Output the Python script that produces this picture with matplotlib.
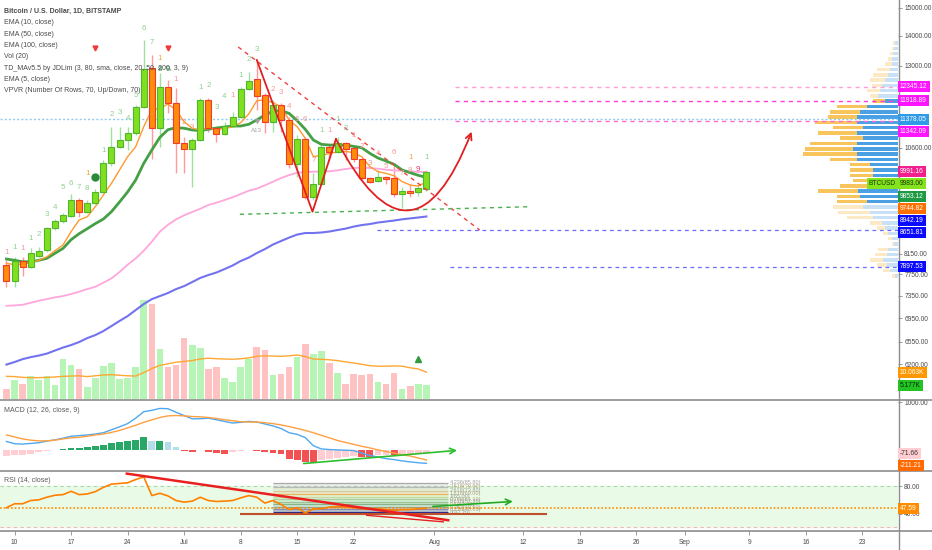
import numpy as np
import matplotlib
matplotlib.use("Agg")
import matplotlib.pyplot as plt
from matplotlib.lines import Line2D
from matplotlib.patches import FancyArrowPatch
from matplotlib.ticker import FixedLocator, NullLocator, FuncFormatter

plt.rcParams['font.family'] = ['Liberation Sans Narrow', 'Liberation Sans', 'DejaVu Sans']

W, H = 932, 550

# daily BTCUSD candles, Jun 9 .. Jul 31 2019 (index 0 = Jun 9)
opens = [7929, 7613, 8001, 7894, 8105, 8228, 8682, 8836, 8952, 9315, 9049, 9253, 9509, 10203,
         10632, 10811, 11009, 11732, 12924, 11136, 12328, 11850, 10731, 10570, 10811, 11939,
         11136, 10973, 11192, 11443, 12266, 12577, 12087, 11305, 11791, 11361, 10185, 10838,
         9383, 9692, 10623, 10493, 10731, 10597, 10313, 9836, 9765, 9860, 9836, 9454, 9525,
         9501, 9573]
highs = [8027, 8091, 8091, 8261, 8295, 8717, 8877, 9026, 9454, 9352, 9315, 9563, 10287, 11172,
         11172, 11172, 11791, 13856, 13349, 12766, 12546, 12300, 10890, 10865, 11999, 11999,
         11164, 11305, 11588, 12328, 12797, 13185, 12148, 11939, 11850, 11443, 10945, 10890,
         9960, 10676, 10676, 10890, 10757, 10623, 10339, 9860, 10035, 9885, 10211, 9619, 9692,
         9692, 10035]
lows = [7512, 7511, 7713, 7862, 8091, 8193, 8647, 8805, 8936, 8920, 9012, 9223, 9471, 10134,
        10588, 10545, 10945, 11703, 10313, 10623, 11560, 9960, 9960, 9619, 10784, 11028, 10757,
        10945, 11164, 11415, 12239, 11646, 11001, 11028, 11028, 10087, 9860, 9340, 9315, 9667,
        10287, 10467, 10287, 10236, 9789, 9716, 9740, 9692, 9383, 9131, 9383, 9407, 9525]
closes = [7625, 8001, 7894, 8161, 8214, 8682, 8836, 8968, 9315, 9049, 9239, 9509, 10203, 10632,
          10811, 11009, 11741, 12891, 11136, 12328, 11850, 10731, 10570, 10811, 11939, 11136,
          10973, 11192, 11443, 12266, 12515, 12057, 11305, 11791, 11361, 10185, 10838, 9383,
          9692, 10623, 10493, 10731, 10570, 10313, 9836, 9740, 9860, 9812, 9454, 9525, 9478,
          9595, 9983]

ema5 = [7961, 7933, 7947, 7974, 8021, 8091, 8214, 8331, 8612, 8864, 8936, 9162, 9433, 9708,
        10035, 10372, 10632, 11172, 11646, 11694, 11820, 11646, 11313, 11130, 11083, 11130,
        11102, 11119, 11172, 11285, 11531, 11918, 11939, 11860, 11741, 11361, 11172, 10856,
        10372, 10408, 10458, 10493, 10510, 10475, 10372, 10119, 9994, 9952, 9893, 9748, 9668,
        9643, 9745]
ema10 = [8047, 8021, 7993, 7993, 8021, 8061, 8161, 8261, 8441, 8569, 8675, 8785, 8886, 9049,
         9269, 9503, 9789, 10203, 10545, 10883, 11091, 11147, 11130, 11083, 11064, 11102, 11138,
         11164, 11192, 11192, 11240, 11361, 11503, 11608, 11625, 11549, 11341, 11102, 10811,
         10695, 10676, 10676, 10676, 10641, 10605, 10458, 10339, 10262, 10177, 10035, 9968,
         9903, 9853]
ema50 = [7165, 7172, 7183, 7219, 7255, 7285, 7316, 7340, 7377, 7420, 7468, 7511, 7587, 7669,
         7791, 7933, 8059, 8214, 8400, 8612, 8760, 8877, 8968, 9042, 9116, 9201, 9253, 9315,
         9378, 9454, 9533, 9581, 9661, 9748, 9836, 9910, 9968, 9985, 9994, 9994, 10002, 10027,
         10060, 10085, 10094, 10085, 10068, 10043, 10027, 10018, 10002, 9985, 9991]
ema100 = [6193, 6232, 6277, 6308, 6333, 6364, 6412, 6460, 6500, 6549, 6613, 6663, 6730, 6814,
          6900, 6984, 7090, 7196, 7285, 7340, 7396, 7468, 7524, 7600, 7678, 7733, 7782, 7848,
          7918, 8007, 8075, 8167, 8247, 8341, 8414, 8486, 8550, 8583, 8583, 8594, 8615, 8647,
          8677, 8721, 8754, 8776, 8809, 8831, 8853, 8880, 8900, 8920, 8942]

# volume in thousands and its 20-day average
volume = [3.75, 7.1, 5.5, 8.6, 7.1, 8.6, 5.25, 14.9, 12.6, 11.1, 4.5, 7.8, 12.4, 13.6, 7.4, 8.0,
          12.0, 37.1, 35.6, 18.6, 12.1, 12.6, 22.8, 20.3, 19.2, 11.1, 11.9, 7.9, 6.5, 11.9, 14.9,
          19.6, 18.4, 9.0, 9.5, 12.1, 15.9, 20.7, 17.0, 18.1, 13.6, 9.9, 5.5, 9.5, 9.0, 9.4, 6.4,
          5.6, 9.6, 3.9, 5.0, 5.6, 5.177]
vol_ma = [8.5, 8.4, 8.1, 8.0, 8.0, 8.1, 8.25, 8.5, 8.6, 8.7, 8.4, 8.7, 9.0, 9.1, 8.9, 8.7, 8.6,
          9.9, 11.4, 12.6, 13.2, 13.8, 14.1, 14.4, 15.0, 15.3, 15.1, 15.0, 14.9, 15.1, 15.4, 16.0,
          16.2, 16.1, 16.0, 16.2, 16.5, 15.9, 15.0, 14.9, 14.7, 14.4, 13.9, 13.5, 13.0, 12.5,
          12.3, 12.3, 12.4, 12.3, 11.7, 11.25, 10.063]

macd = [177, 129, 122, 136, 150, 184, 211, 245, 286, 299, 313, 333, 360, 422, 483, 551, 666,
        802, 830, 870, 864, 789, 721, 653, 653, 666, 632, 598, 564, 578, 598, 585, 544, 503,
        449, 360, 326, 258, 88, 20, 7, 0, -7, -14, -68, -116, -150, -184, -204, -231, -252,
        -270, -283]
signal = [313, 272, 231, 204, 190, 190, 204, 231, 252, 265, 286, 313, 333, 367, 408, 462, 517,
          578, 632, 680, 714, 721, 714, 700, 694, 680, 660, 632, 612, 592, 585, 585, 571, 551,
          524, 490, 449, 408, 360, 306, 252, 197, 156, 116, 75, 41, 0, -34, -68, -102, -129,
          -170, -211]
hist = [-136, -116, -102, -82, -54, -27, -7, 14, 48, 48, 61, 82, 102, 136, 156, 177, 204, 272,
        190, 196, 156, 68, -14, -48, -5, -54, -68, -95, -48, -27, 0, -14, -48, -68, -82, -184,
        -204, -258, -262, -218, -184, -163, -150, -136, -150, -156, -116, -102, -116, -82, -78,
        -75, -72]

rsi = [48.6, 54.4, 54.4, 59.2, 60.2, 64.1, 67.0, 67.9, 72.8, 67.9, 68.9, 72.3, 78.6, 83.4, 84.4,
       85.4, 90.2, 94.1, 66.5, 69.9, 66.0, 59.2, 56.8, 58.3, 64.1, 59.2, 57.8, 58.3, 59.2, 63.1,
       66.5, 64.1, 55.4, 59.2, 53.4, 45.7, 48.6, 40.8, 46.6, 47.1, 49.5, 50.5, 49.5, 48.6, 47.1,
       46.6, 47.1, 45.7, 44.7, 45.7, 45.7, 47.1, 47.59]

# visible range volume profile rows, top to bottom (up / down volume)
vp_up = [3, 4, 5, 6, 6.3, 8, 10, 13, 16.3, 18, 20, 13, 31.3, 38, 41.3, 41.3, 35, 41.3, 35, 41.3,
         45, 41.3, 41.3, 28, 25, 25, 25, 28, 40, 38, 31.3, 35, 28, 25, 16.3, 13, 10, 6, 4, 10,
         11.3, 15, 11.3, 8, 3]
vp_down = [2, 2.3, 3, 4, 6.7, 13.3, 15, 15, 10, 13.3, 8, 12, 30, 30, 28.7, 41.7, 30, 38.7, 23,
           46.7, 48, 53.7, 26.7, 20, 23, 23, 20, 30, 40, 23.3, 30, 30, 32, 26.3, 11.7, 8.3, 5,
           4, 2.3, 10, 11.7, 13, 10, 7, 3.3]
vp_low, vp_high = 7686, 13872
va_low, va_high = 9200, 11950

# TD sequential counts: (bar, price, text, colour key)
td_labels = [(0, 8187, "1", "r"), (1, 8288, "1", "g"), (2, 8267, "1", "r"), (3, 8475, "1", "g"),
             (4, 8561, "2", "g"), (5, 8997, "3", "g"), (6, 9153, "4", "g"), (7, 9619, "5", "g"),
             (8, 9716, "6", "g"), (9, 9619, "7", "g"), (10, 9595, "8", "g"), (12, 10545, "1", "g"),
             (13, 11531, "2", "g"), (14, 11560, "3", "g"), (15, 11389, "4", "g"),
             (16, 12087, "5", "g"), (17, 14238, "6", "g"), (18, 13752, "7", "g"),
             (19, 12861, "8", "dg"), (20, 12861, "9", "dg"), (21, 12546, "1", "r"),
             (22, 11277, "2", "r"), (23, 11164, "3", "r"), (24, 12328, "1", "g"),
             (25, 12390, "2", "g"), (26, 11732, "3", "g"), (27, 12057, "4", "g"),
             (28, 12087, "1", "r"), (29, 12702, "1", "g"), (30, 13185, "2", "g"),
             (31, 13516, "3", "g"), (33, 12239, "2", "r"), (34, 12148, "3", "r"),
             (35, 11761, "4", "r"), (36, 11361, "5", "r"), (37, 11361, "6", "r"),
             (38, 10287, "7", "r"), (39, 11055, "1", "g"), (40, 11055, "1", "r"),
             (41, 11361, "1", "g"), (42, 11136, "2", "g"), (43, 10945, "1", "r"),
             (44, 10650, "2", "r"), (45, 10211, "3", "r"), (46, 10467, "4", "r"),
             (47, 10134, "5", "r"), (48, 10493, "6", "r"), (49, 9960, "7", "r"),
             (50, 10035, "8", "r"), (51, 10060, "9", "m"), (52, 10339, "1", "g"),
             (10, 9960, "1", "o"), (19, 13217, "1", "o"), (50, 10362, "1", "o"),
             (31, 11055, "A13", "gray")]
td_colors = {"g": "#8fd18f", "r": "#f59a9a", "dg": "#2f9e50", "m": "#e23a70",
             "o": "#f5a340", "gray": "#a0a0a0"}

fib_levels = ["4.236", "3.618", "2.618", "1.618", "1", "0.786", "0.618", "0.5", "0.382", "0.236", "0"]
fib_values = [85.8, 79.6, 73.8, 69.0, 65.0, 61.1, 57.3, 53.4, 49.5, 46.0, 42.2]
fib_colors = ["#a8a8a8", "#b8b8b8", "#d9c9a0", "#e8b464", "#c9d9a0", "#a8cfa0", "#96c496",
              "#86b486", "#78a8a8", "#8a8ab0", "#2a2a8c"]

tick_pos = [1, 8, 15, 22, 29, 36, 43, 53, 64, 71, 78, 84, 92, 99, 106]
tick_lab = ["10", "17", "24", "Jul", "8", "15", "22", "Aug", "12", "19", "26", "Sep", "9", "16", "23"]
price_ticks = [15000, 14000, 13000, 10600, 8150, 7750, 7350, 6950, 6550, 6200]

legend_lines = ["EMA (10, close)", "EMA (50, close)", "EMA (100, close)", "Vol (20)",
                "TD_MAv5.5 by JDLim (3, 80, sma, close, 20, 50, 200, 3, 9)", "EMA (5, close)",
                "VPVR (Number Of Rows, 70, Up/Down, 70)"]

FS = 4.8  # scale text size


def rect(x0, y0, x1, y1):
    return [x0 / W, 1 - y1 / H, (x1 - x0) / W, (y1 - y0) / H]


def style_right_axis(a, ticks, fmt="{:.2f}"):
    a.yaxis.tick_right()
    a.yaxis.set_major_locator(FixedLocator(ticks))
    a.yaxis.set_minor_locator(NullLocator())
    a.yaxis.set_major_formatter(FuncFormatter(lambda v, p: fmt.format(v)))
    a.tick_params(axis="y", labelsize=FS, color="#8a8a8a", labelcolor="#4a4a4a",
                  length=3, width=0.6, pad=1.5)
    a.tick_params(axis="x", bottom=False, labelbottom=False)
    for s in a.spines.values():
        s.set_visible(False)


def price_labels(fig, a, items, gap=12.2):
    pts = []
    for val, txt, bg, fg in items:
        pts.append([a.transData.transform((0, val))[1], txt, bg, fg])
    pts.sort(key=lambda p: -p[0])
    for k in range(1, len(pts)):
        if pts[k - 1][0] - pts[k][0] < gap:
            pts[k][0] = pts[k - 1][0] - gap
    out = {}
    for yd, txt, bg, fg in pts:
        fig.text(900 / W, yd / H, txt, fontsize=FS, color=fg, ha="left", va="center",
                 bbox=dict(boxstyle="square,pad=0.3", fc=bg, ec="none"), zorder=10)
        out[txt] = yd
    return out


n = len(closes)
idx = np.arange(n)
xmin, xmax = -0.8, 110.4
o, h, l, c = map(np.array, (opens, highs, lows, closes))
up = c >= o

fig = plt.figure(figsize=(W / 100, H / 100), dpi=100)
fig.patch.set_facecolor("white")

# volume (background layer of the price pane)
main_rect = rect(0, 0, 898, 399)
ax_vol = fig.add_axes(main_rect)
ax_vol.set_xlim(xmin, xmax)
ax_vol.set_ylim(0, 149.6)
ax_vol.axis("off")
ax_vol.bar(idx, volume, width=0.82, color=np.where(up, "#b6f5b6", "#ffc2c2"), zorder=1)
ax_vol.plot(idx, vol_ma, color="#ffa733", lw=1.0, zorder=2)
ax_vol.plot([51], [15], marker="^", ms=4, color="#2e9a3a", zorder=3)

# visible range volume profile
ax_vp = fig.add_axes(main_rect)
ax_vp.set_yscale("log")
ax_vp.set_ylim(5686, 15300)
ax_vp.set_xlim(898, 0)
ax_vp.axis("off")
edges = np.geomspace(vp_low, vp_high, len(vp_up) + 1)[::-1]
for k in range(len(vp_up)):
    top, bot = edges[k], edges[k + 1]
    inside = va_low <= np.sqrt(top * bot) <= va_high
    cu = "#4b9fe3" if inside else "#c9e1f7"
    cd = "#f8c45c" if inside else "#fdeac4"
    ax_vp.barh(bot, vp_up[k], height=(top - bot) * 0.66, left=0, align="edge", color=cu)
    ax_vp.barh(bot, vp_down[k], height=(top - bot) * 0.66, left=vp_up[k], align="edge", color=cd)

# price pane
ax = fig.add_axes(main_rect)
ax.set_facecolor("none")
ax.set_yscale("log")
ax.set_ylim(5686, 15300)
ax.set_xlim(xmin, xmax)
style_right_axis(ax, price_ticks)

ax.vlines(idx, l, h, colors=np.where(up, "#9fe09f", "#ff9a9a"), lw=1.0, zorder=2)
ax.plot(idx, ema100, color="#7373f0", lw=1.5, zorder=2.5)
ax.plot(idx, ema50, color="#ffa6dc", lw=1.3, zorder=2.5)
ax.plot(idx, ema10, color="#45a045", lw=2.0, zorder=2.6)
ax.plot(idx, ema5, color="#ff9a2e", lw=1.0, zorder=2.7)
ax.bar(idx, np.abs(c - o), bottom=np.minimum(o, c), width=0.74,
       color=np.where(up, "#80e020", "#ff8c0a"),
       edgecolor=np.where(up, "#4fb52a", "#f03a2a"), linewidth=0.8, zorder=3)

for bi, pr, txt, key in td_labels:
    ax.text(bi, pr, txt, color=td_colors[key], fontsize=5.8 if txt != "A13" else 4.4,
            ha="center", va="center", zorder=5)
ax.plot([11, 20], [13583, 13583], ls="none", marker="v", ms=3.5, color="#f03a3a", zorder=5)
ax.plot([11], [9860], ls="none", marker="o", ms=5, color="#2a8a3a", zorder=5)
ax.plot([31], [11335], ls="none", marker="v", ms=2.5, color="#a0a0a0", zorder=5)

# drawn levels
ax.hlines(11378.05, xmin, xmax, colors="#8fcaf2", lw=1.0, linestyles=(0, (1.5, 1.5)), zorder=1)
ax.hlines(12345.12, 55.5, xmax, colors="#ff9ed8", lw=1.0, linestyles=(0, (3, 3)), zorder=1)
ax.hlines(11918.89, 55.5, xmax, colors="#ff3ad8", lw=1.0, linestyles=(0, (3, 3)), zorder=1)
ax.hlines(11342.09, 55.5, xmax, colors="#ff6ad0", lw=1.0, linestyles=(0, (3, 3)), zorder=1)
ax.hlines(8651.81, 45.9, xmax, colors="#6a6aff", lw=0.9, linestyles=(0, (3, 3)), zorder=1)
ax.hlines(7897.53, 54.9, xmax, colors="#6a6aff", lw=0.9, linestyles=(0, (3, 3)), zorder=1)

ax.plot([28.7, 58.6], [13617, 8647], color="#f04040", lw=1.0, ls=(0, (3, 3)), zorder=4)
ax.plot([28.9, 64.8], [8990, 9162], color="#4caf50", lw=1.0, ls=(0, (3, 3)), zorder=4)
ax.plot([31, 37.9, 40.8], [13185, 9049, 10838], color="#e02020", lw=1.3, zorder=4)
ax.add_patch(FancyArrowPatch((40.8, 10838), (57.6, 11036), connectionstyle="arc3,rad=1.1",
                             arrowstyle="->", mutation_scale=11, color="#e02020", lw=1.3,
                             shrinkA=0, shrinkB=0, zorder=4))

# MACD pane
ax_m = fig.add_axes(rect(0, 400, 898, 470))
ax_m.set_facecolor("none")
ax_m.set_xlim(xmin, xmax)
ax_m.set_ylim(-422, 1047)
style_right_axis(ax_m, [1000])
hcol = []
for k, v in enumerate(hist):
    prev = hist[k - 1] if k else v
    if v >= 0:
        hcol.append("#27a866" if v >= prev else "#b3dde8")
    else:
        hcol.append("#f25252" if v < prev else "#ffcdd2")
ax_m.bar(idx, hist, width=0.85, color=hcol, zorder=1)
ax_m.plot(idx, macd, color="#4fa8f0", lw=1.0, zorder=2)
ax_m.plot(idx, signal, color="#ffa040", lw=1.0, zorder=2)
ax_m.annotate("", xy=(55.8, -10), xytext=(36.8, -286),
              arrowprops=dict(arrowstyle="->", color="#2cc02c", lw=1.2, shrinkA=0, shrinkB=0))

# RSI pane
ax_r = fig.add_axes(rect(0, 471, 898, 531))
ax_r.set_facecolor("none")
ax_r.set_xlim(xmin, xmax)
ax_r.set_ylim(14.2, 102.8)
style_right_axis(ax_r, [80, 40])
ax_r.axhspan(20, 80, color="#e9fbe6", zorder=0)
ax_r.axhline(80, color="#a6d8a6", lw=0.8, ls=(0, (3, 3)), zorder=1)
ax_r.axhline(20, color="#f2b4b4", lw=0.8, ls=(0, (3, 3)), zorder=1)
for k in range(len(fib_values)):
    ax_r.hlines(fib_values[k], 33.0, 54.7, colors=fib_colors[k], lw=0.9, zorder=2)
    if k + 1 < len(fib_values):
        ax_r.fill_between([33.0, 54.7], fib_values[k + 1], fib_values[k],
                          color=fib_colors[k + 1], alpha=0.25, lw=0, zorder=1.5)
    ax_r.text(54.9, fib_values[k], "{}({:.2f})".format(fib_levels[k], fib_values[k]),
              fontsize=4.0, color="#b0a080" if k % 2 else "#a0a0a0", va="center", zorder=3)
ax_r.hlines(39.9, 28.9, 66.9, colors="#c0502a", lw=1.5, zorder=3)
ax_r.axhline(47.59, color="#ff8c00", lw=1.2, ls=(0, (1, 1.2)), zorder=3)
ax_r.plot(idx, rsi, color="#ff8000", lw=1.2, zorder=4)
ax_r.plot([14.9, 54.7], [98.9, 30.1], color="#e82020", lw=1.8, zorder=5)
ax_r.plot([44.6, 54.1], [37.4, 27.7], color="#e82020", lw=1.0, zorder=5)
ax_r.annotate("", xy=(62.7, 57.8), xytext=(52.8, 50.5),
              arrowprops=dict(arrowstyle="->", color="#22aa22", lw=1.2, shrinkA=0, shrinkB=0))
ax_r.xaxis.set_major_locator(FixedLocator(tick_pos))
ax_r.set_xticklabels(tick_lab)
ax_r.tick_params(axis="x", bottom=True, labelbottom=True, labelsize=FS, color="#8a8a8a",
                 labelcolor="#4a4a4a", length=3, width=0.6, pad=3)

# pane separators and price scale border
for yy in (399.5, 470.5, 531):
    fig.add_artist(Line2D([0, 1], [1 - yy / H] * 2, color="#8c8c8c", lw=1.2))
fig.add_artist(Line2D([898.5 / W] * 2, [0, 1], color="#8c8c8c", lw=1.0))

# legend texts
fig.text(4 / W, 1 - 11.5 / H, "Bitcoin / U.S. Dollar, 1D, BITSTAMP", fontsize=5.0,
         fontweight="bold", color="#4a4a4a", va="center")
for k, t in enumerate(legend_lines):
    fig.text(4 / W, 1 - (22.8 + 11.3 * k) / H, t, fontsize=5.0, color="#4a4a4a", va="center")
fig.text(4 / W, 1 - 410 / H, "MACD (12, 26, close, 9)", fontsize=5.0, color="#5a5a5a", va="center")
fig.text(4 / W, 1 - 481 / H, "RSI (14, close)", fontsize=5.0, color="#5a5a5a", va="center")

# price scale labels
pos = price_labels(fig, ax, [
    (12345.12, "12345.12", "#ff14ff", "white"),
    (11918.89, "11918.89", "#ff14ff", "white"),
    (11378.05, "11378.05", "#2f9ae8", "white"),
    (11342.09, "11342.09", "#ff14ff", "white"),
    (ema50[-1], "9991.16", "#f2208e", "white"),
    (closes[-1], "9983.00", "#84e31c", "#163a00"),
    (ema10[-1], "9853.12", "#1f9a44", "white"),
    (ema5[-1], "9744.82", "#ff7000", "white"),
    (ema100[-1], "8942.19", "#0a0aff", "white"),
    (8651.81, "8651.81", "#0a0aff", "white"),
    (7897.53, "7897.53", "#0a0aff", "white"),
])
fig.text(896 / W, pos["9983.00"] / H, "BTCUSD", fontsize=FS, color="#163a00", ha="right",
         va="center", bbox=dict(boxstyle="square,pad=0.3", fc="#84e31c", ec="none"), zorder=10)
price_labels(fig, ax_vol, [(vol_ma[-1], "10.063K", "#ff9800", "white"),
                           (volume[-1], "5.177K", "#22c322", "#0a2a0a")])
price_labels(fig, ax_m, [(hist[-1], "-71.66", "#ffcdd2", "#333333"),
                         (signal[-1], "-211.21", "#ff6a00", "white")])
price_labels(fig, ax_r, [(rsi[-1], "47.59", "#ff8c00", "white")])

fig.savefig("out.png", dpi=100)
